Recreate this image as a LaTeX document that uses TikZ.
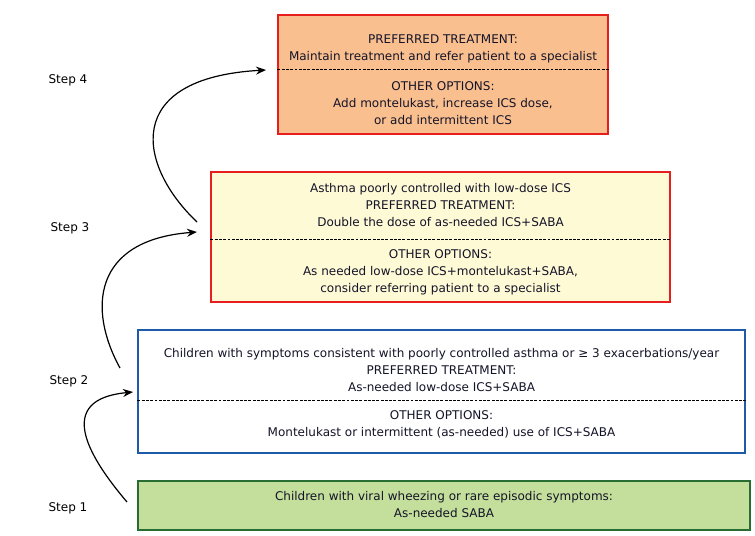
\documentclass[tikz,border=0pt]{standalone}
\usepackage{fontspec}
\setmainfont{DejaVu Sans}
\definecolor{orfill}{RGB}{250,191,143}
\definecolor{yefill}{RGB}{255,250,214}
\definecolor{grfill}{RGB}{196,223,155}
\definecolor{redline}{RGB}{230,30,30}
\definecolor{blueline}{RGB}{30,90,170}
\definecolor{greenline}{RGB}{40,110,50}
\definecolor{txt}{RGB}{20,20,40}
\tikzset{
  boxbase/.style={draw, line width=0.8pt, inner sep=0pt, rectangle},
  txtnode/.style={align=center, font=\fontsize{9}{12.75}\selectfont, text=txt, inner sep=0pt},
  steplabel/.style={font=\fontsize{9}{12}\selectfont, text=black, inner sep=0pt},
  sep/.style={dash pattern=on 2.2pt off 1pt, line width=0.5pt},
  arr/.style={-{Stealth[length=7.5pt,width=6pt]}, line width=0.9pt}
}
\usetikzlibrary{arrows.meta}
\begin{document}
\begin{tikzpicture}[x=0.75pt,y=-0.75pt]
\useasboundingbox (0,0) rectangle (755,535);
% boxes
\node[boxbase, draw=redline, fill=orfill, minimum width=330*0.75pt, minimum height=119*0.75pt] (b4) at (443,74.5) {};
\node[boxbase, draw=redline, fill=yefill, minimum width=459*0.75pt, minimum height=130*0.75pt] (b3) at (440.5,237) {};
\node[boxbase, draw=blueline, fill=white, minimum width=607*0.75pt, minimum height=123*0.75pt] (b2) at (441.5,391.5) {};
\node[boxbase, draw=greenline, fill=grfill, minimum width=612*0.75pt, minimum height=49*0.75pt] (b1) at (444,505.5) {};
% separators
\coordinate (s4l) at (b4.west |- 0,69); \coordinate (s4r) at (b4.east |- 0,69);
\coordinate (s3l) at (b3.west |- 0,239); \coordinate (s3r) at (b3.east |- 0,239);
\coordinate (s2l) at (b2.west |- 0,400); \coordinate (s2r) at (b2.east |- 0,400);
\draw[sep] (s4l) -- (s4r);
\draw[sep] (s3l) -- (s3r);
\draw[sep] (s2l) -- (s2r);
% texts
\node[txtnode] (t4a) at (443,49) {PREFERRED TREATMENT:\\Maintain treatment and refer patient to a specialist};
\node[txtnode] (t4b) at (443,103) {OTHER OPTIONS:\\Add montelukast, increase ICS dose,\\or add intermittent ICS};
\node[txtnode] (t3a) at (440.5,205) {Asthma poorly controlled with low-dose ICS\\PREFERRED TREATMENT:\\Double the dose of as-needed ICS+SABA};
\node[txtnode] (t3b) at (440.5,272) {OTHER OPTIONS:\\As needed low-dose ICS+montelukast+SABA,\\consider referring patient to a specialist};
\node[txtnode] (t2a) at (441.5,370) {Children with symptoms consistent with poorly controlled asthma or ≥ 3 exacerbations/year\\PREFERRED TREATMENT:\\As-needed low-dose ICS+SABA};
\node[txtnode] (t2b) at (441.5,424.5) {OTHER OPTIONS:\\Montelukast or intermittent (as-needed) use of ICS+SABA};
\node[txtnode] (t1) at (444,505) {Children with viral wheezing or rare episodic symptoms:\\As-needed SABA};
% step labels
\node[steplabel] (st4) at (68,80) {Step 4};
\node[steplabel] (st3) at (70,228) {Step 3};
\node[steplabel] (st2) at (69,381) {Step 2};
\node[steplabel] (st1) at (68,508) {Step 1};
% arrows
\coordinate (a1s) at (127,502); \coordinate (a1e) at (133,392);
\coordinate (a2s) at (120,368); \coordinate (a2e) at (197,232);
\coordinate (a3s) at (197,222); \coordinate (a3e) at (266,70);
\draw[arr] (a1s) .. controls (70,435) and (70,398) .. (a1e);
\draw[arr] (a2s) .. controls (88,310) and (92,240) .. (a2e);
\draw[arr] (a3s) .. controls (137,165) and (122,78) .. (a3e);
\end{tikzpicture}
\end{document}
